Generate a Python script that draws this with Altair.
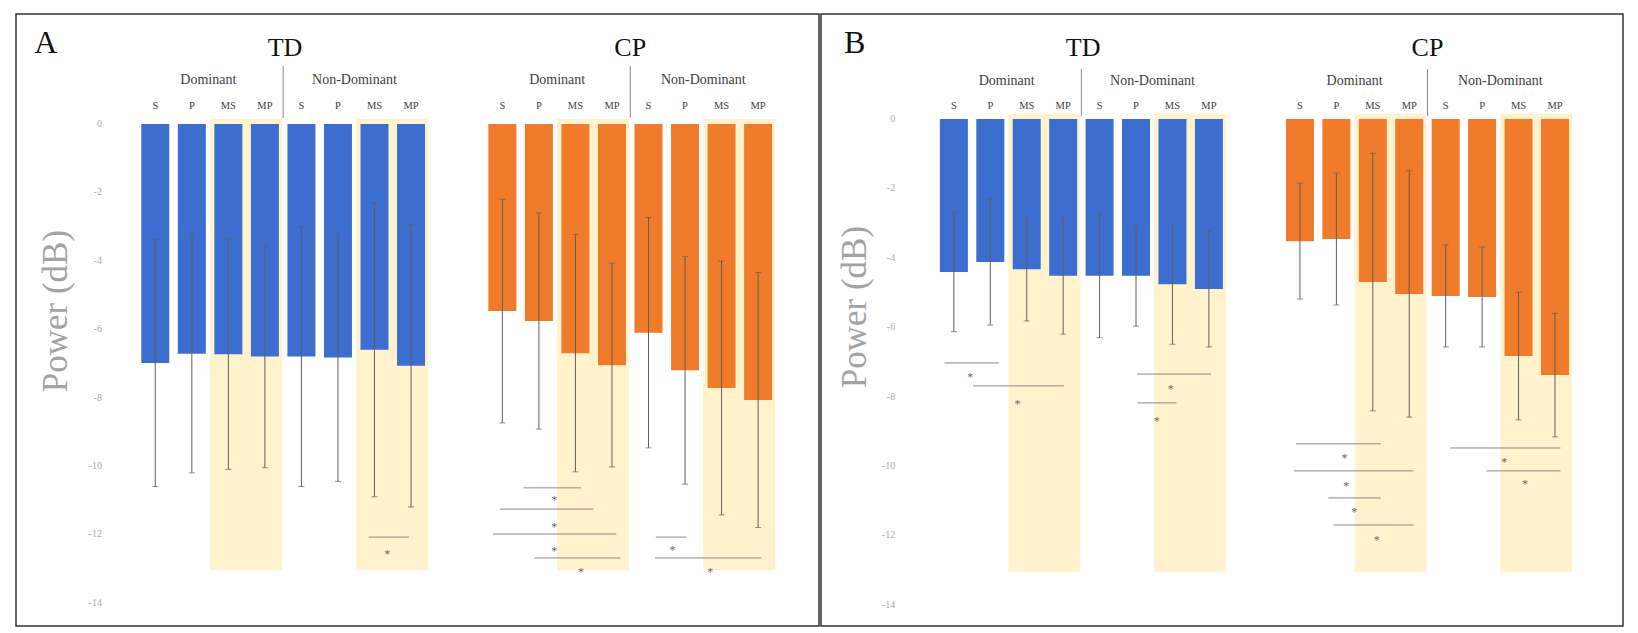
import altair as alt
import pandas as pd

# ---------------- data ----------------
groups = ["TD"] * 8 + ["CP"] * 8
conds = ["S", "P", "MS", "MP"] * 4
positions = [0, 1, 2, 3, 4, 5, 6, 7, 9.5, 10.5, 11.5, 12.5, 13.5, 14.5, 15.5, 16.5]

# Panel A: mean power (dB) and SD
a_mean = [-6.99, -6.72, -6.73, -6.80, -6.80, -6.83, -6.60, -7.07,
          -5.47, -5.76, -6.70, -7.05, -6.10, -7.20, -7.72, -8.07]
a_sd = [3.61, 3.48, 3.37, 3.25, 3.80, 3.62, 4.30, 4.13,
        3.27, 3.16, 3.47, 2.98, 3.37, 3.33, 3.71, 3.73]
# Panel B
b_mean = [-4.41, -4.12, -4.33, -4.52, -4.52, -4.52, -4.76, -4.90,
          -3.52, -3.46, -4.70, -5.04, -5.10, -5.13, -6.83, -7.38]
b_sd = [1.72, 1.82, 1.49, 1.68, 1.78, 1.45, 1.73, 1.67,
        1.67, 1.90, 3.71, 3.55, 1.47, 1.44, 1.84, 1.78]

# highlighted (MS / MP) regions
shade_x1 = [1.5, 5.5, 11.0, 15.0]
shade_x2 = [3.47, 7.47, 12.97, 16.97]
shade_top = 0.15
shade_bottom = -13.05

# significance brackets
a_sig_x1 = [5.84, 10.08, 9.43, 9.24, 10.38, 13.70, 13.68]
a_sig_x2 = [6.95, 11.65, 12.00, 12.62, 12.73, 14.54, 16.59]
a_sig_y = [-12.08, -10.64, -11.26, -11.99, -12.69, -12.08, -12.69]
a_star_x = [6.35, 10.92, 10.92, 10.92, 11.65, 14.16, 15.19]
a_star_y = [-12.49, -10.91, -11.70, -12.40, -13.01, -12.37, -13.01]

b_sig_x1 = [-0.26, 0.53, 5.03, 5.05, 9.39, 9.34, 10.28, 10.42, 13.62, 14.62]
b_sig_x2 = [1.23, 3.02, 7.06, 6.11, 11.72, 12.62, 11.72, 12.62, 16.65, 16.65]
b_sig_y = [-7.03, -7.69, -7.35, -8.18, -9.36, -10.14, -10.92, -11.70, -9.48, -10.14]
b_star_x = [0.45, 1.75, 5.95, 5.57, 10.72, 10.77, 10.99, 11.61, 15.11, 15.68]
b_star_y = [-7.35, -8.12, -7.69, -8.61, -9.68, -10.49, -11.24, -12.04, -9.80, -10.43]

# header texts
group_titles = ["TD", "CP"]
group_title_x = [3.55, 13.0]
sub_labels = ["Dominant", "Non-Dominant", "Dominant", "Non-Dominant"]
sub_x = [1.45, 5.45, 11.0, 15.0]
divider_x = [3.5, 13.0]
y_ticks = [0, -2, -4, -6, -8, -10, -12, -14]
y_tick_labels = ["0", "-2", "-4", "-6", "-8", "-10", "-12", "-14"]
y_title = "Power (dB)"

SERIF = "Liberation Serif"
BLUE = "#3B6ECF"
ORANGE = "#EF7B2B"


def panel(letter, means, sds, sx1, sx2, sy, stx, sty, hdr, xdom, ydom, width):
    xs = alt.Scale(domain=xdom, nice=False, zero=False)
    ys = alt.Scale(domain=ydom, nice=False, zero=False)

    def X(f):
        return alt.X(f + ":Q", scale=xs, axis=None)

    def Y(f):
        return alt.Y(f + ":Q", scale=ys, axis=None)

    bars = pd.DataFrame(dict(pos=positions, mean=means, sd=sds, group=groups, cond=conds))
    bars["lo"] = bars["mean"] - bars["sd"]
    bars["hi"] = bars["mean"] + bars["sd"]
    bars["zero"] = 0.0
    bars["cy"] = hdr["cond"]

    shade = pd.DataFrame(dict(x1=shade_x1, x2=shade_x2))
    shade["top"] = shade_top
    shade["bot"] = shade_bottom

    sig = pd.DataFrame(dict(x1=sx1, x2=sx2, y=sy))
    stars = pd.DataFrame(dict(x=stx, y=sty))

    gt = pd.DataFrame(dict(x=group_title_x, label=group_titles))
    gt["y"] = hdr["group"]
    st = pd.DataFrame(dict(x=sub_x, label=sub_labels))
    st["y"] = hdr["sub"]
    dv = pd.DataFrame(dict(x=divider_x))
    dv["y1"] = hdr["div_top"]
    dv["y2"] = hdr["div_bot"]
    lt = pd.DataFrame(dict(x=[hdr["letter_x"]], y=[hdr["letter_y"]], label=[letter]))
    tk = pd.DataFrame(dict(y=y_ticks, label=y_tick_labels))
    tk["x"] = hdr["tick_x"]
    tt = pd.DataFrame(dict(x=[hdr["title_x"]], y=[hdr["title_y"]], label=[y_title]))

    shade_l = alt.Chart(shade).mark_rect(color="#FFF2CC").encode(
        x=X("x1"), x2="x2", y=Y("top"), y2="bot")
    bar_l = alt.Chart(bars).mark_bar(size=28).encode(
        x=X("pos"), y=Y("mean"), y2="zero",
        color=alt.Color("group:N", scale=alt.Scale(domain=["TD", "CP"], range=[BLUE, ORANGE]),
                        legend=None))
    err_l = alt.Chart(bars).mark_rule(color="#5f5f5f", strokeWidth=1).encode(
        x=X("pos"), y=Y("lo"), y2="hi")
    cap_lo = alt.Chart(bars).mark_tick(orient="horizontal", size=6, thickness=1,
                                       color="#5f5f5f").encode(x=X("pos"), y=Y("lo"))
    cap_hi = alt.Chart(bars).mark_tick(orient="horizontal", size=6, thickness=1,
                                       color="#5f5f5f").encode(x=X("pos"), y=Y("hi"))
    sig_l = alt.Chart(sig).mark_rule(color="#8a8a8a", strokeWidth=1).encode(
        x=X("x1"), x2="x2", y=Y("y"))
    star_l = alt.Chart(stars).mark_text(text="*", font=SERIF, fontSize=12, color="#6a6a6a",
                                         dy=3).encode(x=X("x"), y=Y("y"))
    gt_l = alt.Chart(gt).mark_text(font=SERIF, fontSize=26, color="#111111").encode(
        x=X("x"), y=Y("y"), text="label:N")
    st_l = alt.Chart(st).mark_text(font=SERIF, fontSize=14, color="#404040").encode(
        x=X("x"), y=Y("y"), text="label:N")
    cond_l = alt.Chart(bars).mark_text(font=SERIF, fontSize=10.5, color="#404040").encode(
        x=X("pos"), y=Y("cy"), text="cond:N")
    dv_l = alt.Chart(dv).mark_rule(color="#8a8a8a", strokeWidth=1).encode(
        x=X("x"), y=Y("y1"), y2="y2")
    lt_l = alt.Chart(lt).mark_text(font=SERIF, fontSize=32, color="#111111").encode(
        x=X("x"), y=Y("y"), text="label:N")
    tk_l = alt.Chart(tk).mark_text(font=SERIF, fontSize=10, color="#a8a8a8", align="right",
                                   baseline="middle").encode(x=X("x"), y=Y("y"), text="label:N")
    tt_l = alt.Chart(tt).mark_text(font=SERIF, fontSize=35, color="#a3a3a3", angle=270,
                                   align="center", baseline="middle").encode(
        x=X("x"), y=Y("y"), text="label:N")

    return alt.layer(shade_l, bar_l, err_l, cap_lo, cap_hi, sig_l, star_l,
                     gt_l, st_l, cond_l, dv_l, lt_l, tk_l, tt_l).properties(
        width=width, height=612)


hdr_a = dict(group=2.22, sub=1.29, cond=0.53, div_top=1.70, div_bot=0.18,
             letter_x=-3.0, letter_y=2.37, tick_x=-1.46, title_x=-2.73, title_y=-5.47)
hdr_b = dict(group=2.05, sub=1.09, cond=0.37, div_top=1.44, div_bot=0.09,
             letter_x=-2.72, letter_y=2.19, tick_x=-1.61, title_x=-2.72, title_y=-5.42)

pa = panel("A", a_mean, a_sd, a_sig_x1, a_sig_x2, a_sig_y, a_star_x, a_star_y, hdr_a,
           [-3.676, 18.03], [-14.68, 3.22], 803)
pb = panel("B", b_mean, b_sd, b_sig_x1, b_sig_x2, b_sig_y, b_star_x, b_star_y, hdr_b,
           [-3.51, 18.23], [-14.61, 3.025], 802)

chart = alt.hconcat(pa, pb, spacing=0).properties(
    padding={"left": 7, "top": 5, "right": 5, "bottom": 0},
    background="white",
).configure_view(stroke="#333333", strokeWidth=1.5)

chart.save("out.html", embed_options={"renderer": "svg", "actions": False})
